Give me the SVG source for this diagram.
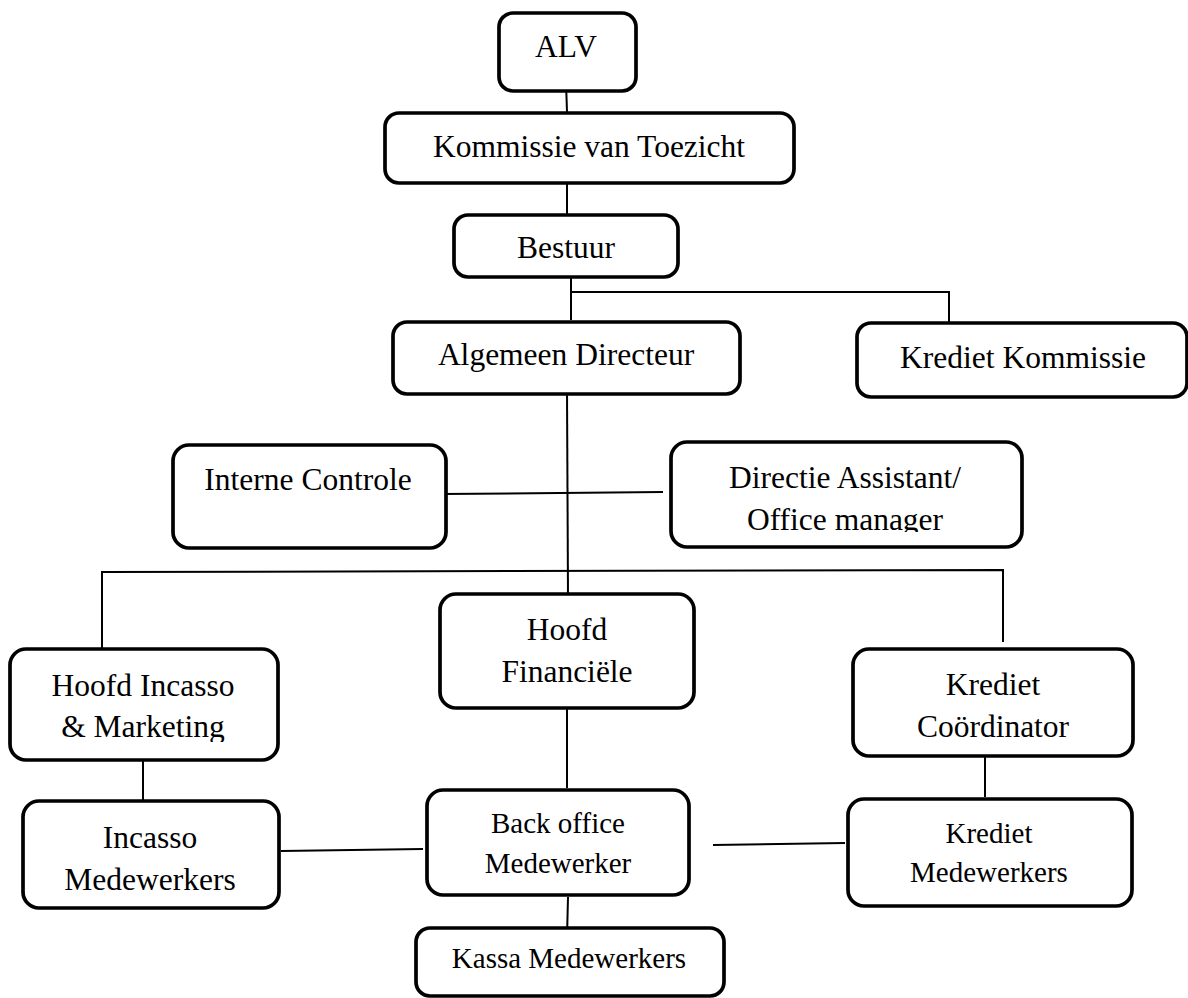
<svg xmlns="http://www.w3.org/2000/svg" width="1188" height="998" viewBox="0 0 1188 998">
<style>
.box{fill:#fff;stroke:#000;stroke-width:3.7}
.t{font-family:"Liberation Serif","Times New Roman",serif;font-size:31.5px;fill:#000;text-anchor:middle}
.s{font-size:29px}
.c{stroke:#000;stroke-width:2;fill:none}
</style>
<defs>
<clipPath id="clipHI"><rect x="10" y="600" width="270" height="142"/></clipPath>
<clipPath id="clipDA"><rect x="671" y="440" width="352" height="92"/></clipPath>
</defs>
<rect width="1188" height="998" fill="#fff"/>
<g id="connectors">
<line class="c" x1="566" y1="82" x2="567" y2="112"/>
<line class="c" x1="567" y1="183" x2="567" y2="215"/>
<line class="c" x1="571" y1="277" x2="571" y2="320"/>
<polyline class="c" points="571,292 949,292 949,323"/>
<line class="c" x1="567" y1="391" x2="568" y2="596"/>
<line class="c" x1="442" y1="494" x2="663" y2="492"/>
<polyline class="c" points="102,648 102,572 1003,570 1003,642"/>
<line class="c" x1="143" y1="757" x2="143" y2="800"/>
<line class="c" x1="567" y1="699" x2="567" y2="788"/>
<line class="c" x1="985" y1="757" x2="985" y2="797"/>
<line class="c" x1="281" y1="851" x2="423" y2="849"/>
<line class="c" x1="713" y1="845" x2="845" y2="843"/>
<line class="c" x1="568" y1="897" x2="567" y2="937"/>
</g>
<g id="alv"><rect class="box" x="499" y="13" width="137" height="78" rx="14"/><text class="t" x="566" y="57">ALV</text></g>
<g id="kvt"><rect class="box" x="385" y="113" width="409" height="70" rx="14"/><text class="t" x="589" y="157">Kommissie van Toezicht</text></g>
<g id="bestuur"><rect class="box" x="454" y="215" width="224" height="62" rx="14"/><text class="t" x="566" y="258">Bestuur</text></g>
<g id="algemeen"><rect class="box" x="393" y="322" width="347" height="72" rx="14"/><text class="t" x="566" y="365">Algemeen Directeur</text></g>
<g id="kredietkommissie"><rect class="box" x="857" y="323" width="330" height="74" rx="14"/><text class="t" x="1023" y="368">Krediet Kommissie</text></g>
<g id="interne"><rect class="box" x="173" y="445" width="273" height="103" rx="16"/><text class="t" x="308" y="490">Interne Controle</text></g>
<g id="directie"><rect class="box" x="671" y="442" width="351" height="105" rx="16"/><text class="t" x="845" y="488">Directie Assistant/</text><text class="t" x="845" y="530" clip-path="url(#clipDA)">Office manager</text></g>
<g id="hoofdincasso"><rect class="box" x="10" y="649" width="268" height="111" rx="16"/><text class="t" x="143" y="696">Hoofd Incasso</text><text class="t" x="143" y="737" clip-path="url(#clipHI)">&amp; Marketing</text></g>
<g id="hoofdfin"><rect class="box" x="440" y="594" width="254" height="114" rx="16"/><text class="t" x="567" y="640">Hoofd</text><text class="t" x="567" y="682">Financiële</text></g>
<g id="kredietcoord"><rect class="box" x="853" y="649" width="280" height="107" rx="16"/><text class="t" x="993" y="695">Krediet</text><text class="t" x="993" y="737">Coördinator</text></g>
<g id="incassomed"><rect class="box" x="23" y="801" width="256" height="107" rx="16"/><text class="t" x="150" y="848">Incasso</text><text class="t" x="150" y="890">Medewerkers</text></g>
<g id="backoffice"><rect class="box" x="427" y="790" width="262" height="105" rx="16"/><text class="t s" x="558" y="833">Back office</text><text class="t s" x="558" y="873">Medewerker</text></g>
<g id="kredietmed"><rect class="box" x="848" y="799" width="284" height="107" rx="16"/><text class="t s" x="989" y="843">Krediet</text><text class="t s" x="989" y="882">Medewerkers</text></g>
<g id="kassa"><rect class="box" x="416" y="928" width="308" height="68" rx="14"/><text class="t s" x="569" y="968">Kassa Medewerkers</text></g>
</svg>
